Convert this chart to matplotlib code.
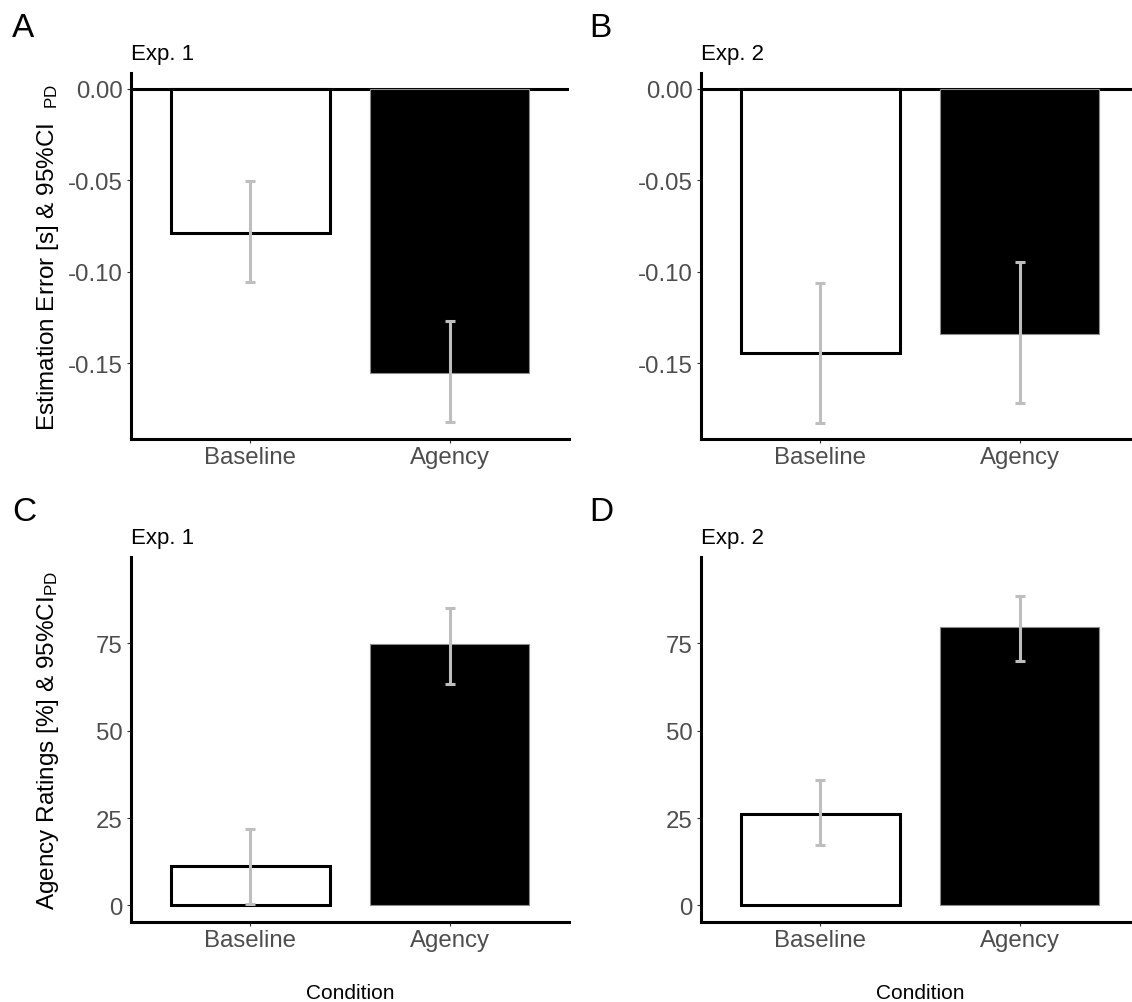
import numpy as np
import matplotlib
matplotlib.use("Agg")
import matplotlib.pyplot as plt

plt.rcParams['font.family'] = ['Liberation Sans', 'DejaVu Sans']
plt.rcParams['mathtext.fontset'] = 'custom'
plt.rcParams['mathtext.rm'] = 'Liberation Sans'
plt.rcParams['mathtext.it'] = 'Liberation Sans:italic'

# data
conditions = ['Baseline', 'Agency']

err_exp1 = [-0.079, -0.1555]
err_exp1_lo = [-0.1057, -0.182]
err_exp1_hi = [-0.0507, -0.127]

err_exp2 = [-0.1445, -0.134]
err_exp2_lo = [-0.1826, -0.1716]
err_exp2_hi = [-0.1061, -0.0948]

rat_exp1 = [11.2, 74.7]
rat_exp1_lo = [0.4, 63.5]
rat_exp1_hi = [21.8, 85.1]

rat_exp2 = [26.2, 79.7]
rat_exp2_lo = [17.2, 70.1]
rat_exp2_hi = [35.8, 88.6]

err_ticks = [0.0, -0.05, -0.10, -0.15]
err_tick_labels = ['0.00', '-0.05', '-0.10', '-0.15']
rat_ticks = [0, 25, 50, 75]
rat_tick_labels = ['0', '25', '50', '75']

W, H = 1132, 1003
fig = plt.figure(figsize=(W / 100, H / 100), dpi=100)


def px_axes(x0, y0, x1, y1):
    return fig.add_axes([x0 / W, 1 - y1 / H, (x1 - x0) / W, (y1 - y0) / H])


def draw_panel(ax, vals, lo, hi, ticks, tick_labels, ylim, title, zero_line):
    x = np.arange(1, len(vals) + 1)
    if zero_line:
        ax.axhline(0, color='black', lw=2.2, zorder=1)
    ax.bar(x[0], vals[0], width=0.8, color='white', edgecolor='black', linewidth=2.2, zorder=2)
    ax.bar(x[1], vals[1], width=0.8, color='black', edgecolor='#8c8c8c', linewidth=0.8, zorder=2)
    yerr = [np.array(vals) - np.array(lo), np.array(hi) - np.array(vals)]
    ax.errorbar(x, vals, yerr=yerr, fmt='none', ecolor='#bebebe', elinewidth=2.2,
                capsize=3.5, capthick=2.2, zorder=3)
    ax.set_xlim(0.4, 2.6)
    ax.set_ylim(*ylim)
    ax.set_xticks(x)
    ax.set_xticklabels(conditions)
    ax.set_yticks(ticks)
    ax.set_yticklabels(tick_labels)
    for s in ['top', 'right']:
        ax.spines[s].set_visible(False)
    for s in ['left', 'bottom']:
        ax.spines[s].set_linewidth(2.2)
        ax.spines[s].set_color('black')
    ax.tick_params(axis='both', length=3, width=0.8, color='#333333',
                   labelcolor='#4d4d4d', labelsize=17.3)
    ax.tick_params(axis='x', pad=2)
    ax.tick_params(axis='y', pad=3)
    ax.set_title(title, loc='left', fontsize=16, pad=10, color='black')
    ax.set_facecolor('none')


ax_a = px_axes(131, 74, 569, 440)
ax_b = px_axes(701, 74, 1139, 440)
ax_c = px_axes(131, 558, 569, 923)
ax_d = px_axes(701, 558, 1139, 923)

draw_panel(ax_a, err_exp1, err_exp1_lo, err_exp1_hi, err_ticks, err_tick_labels,
           (-0.1915, 0.0086), 'Exp. 1', True)
draw_panel(ax_b, err_exp2, err_exp2_lo, err_exp2_hi, err_ticks, err_tick_labels,
           (-0.1915, 0.0086), 'Exp. 2', True)
draw_panel(ax_c, rat_exp1, rat_exp1_lo, rat_exp1_hi, rat_ticks, rat_tick_labels,
           (-4.75, 99.75), 'Exp. 1', False)
draw_panel(ax_d, rat_exp2, rat_exp2_lo, rat_exp2_hi, rat_ticks, rat_tick_labels,
           (-4.75, 99.75), 'Exp. 2', False)

ax_a.set_ylabel(r'Estimation Error [s] & 95%CI  $_{\mathrm{PD}}$', fontsize=17.5)
ax_c.set_ylabel(r'Agency Ratings [%] & 95%CI$_{\mathrm{PD}}$', fontsize=17.5)
ax_a.yaxis.set_label_coords(-0.16, 0.5)
ax_c.yaxis.set_label_coords(-0.16, 0.5)

for ax in (ax_c, ax_d):
    ax.set_xlabel('Condition', fontsize=15, labelpad=23)

for letter, x, y in [('A', 12, 37), ('B', 589, 37), ('C', 12, 521), ('D', 589, 521)]:
    fig.text(x / W, 1 - y / H, letter, fontsize=24, va='baseline', ha='left')

fig.savefig('out.png', dpi=100)
